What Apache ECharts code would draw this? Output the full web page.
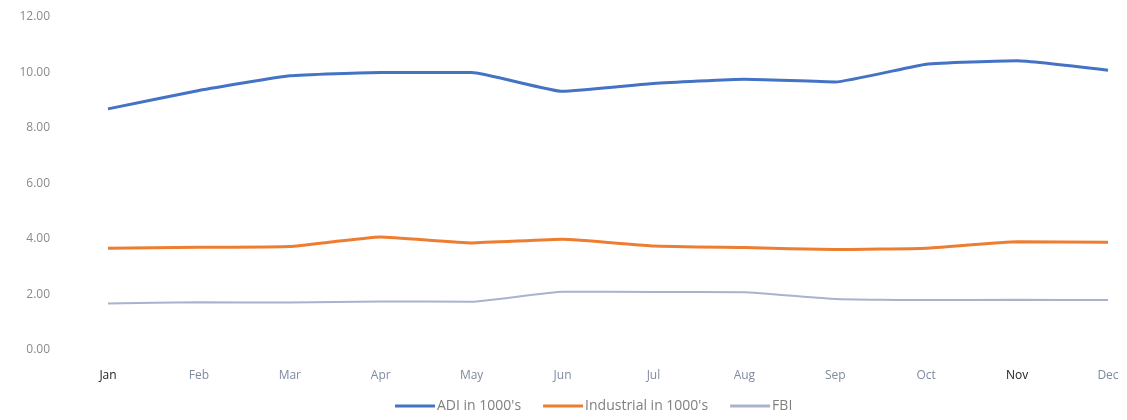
<!DOCTYPE html>
<html>
<head>
<meta charset="utf-8">
<style>
  html, body { margin: 0; padding: 0; background: #fff; }
  #chart { width: 1127px; height: 420px; }
</style>
<script src="https://cdn.jsdelivr.net/npm/echarts@6/dist/echarts.min.js"></script>
</head>
<body>
<div id="chart"></div>
<script>
// months on the x axis
var months = ["Jan", "Feb", "Mar", "Apr", "May", "Jun", "Jul", "Aug", "Sep", "Oct", "Nov", "Dec"];
// values
var adi = [8.69, 9.35, 9.88, 10.0, 10.0, 9.32, 9.6, 9.76, 9.66, 10.3, 10.42, 10.08];
var industrial = [3.67, 3.7, 3.73, 4.07, 3.86, 3.99, 3.75, 3.69, 3.62, 3.67, 3.9, 3.88];
var fbi = [1.68, 1.72, 1.71, 1.75, 1.74, 2.1, 2.09, 2.08, 1.84, 1.8, 1.81, 1.8];

var chart = echarts.init(document.getElementById("chart"));

function lineSeries(name, data, color, width) {
  return {
    name: name,
    type: "line",
    data: data,
    symbol: "none",
    smooth: 0.12,
    lineStyle: { color: color, width: width },
    itemStyle: { color: color }
  };
}

var option = {
  animation: false,
  textStyle: { fontFamily: "Open Sans" },
  grid: { left: 108, right: 19, top: 17, bottom: 70 },
  legend: {
    bottom: 2,
    left: 390,
    itemWidth: 40,
    itemHeight: 3,
    itemGap: 22,
    icon: "rect",
    textStyle: { color: "#7f7f7f", fontSize: 14, padding: [0, 0, 0, -3] },
    data: ["ADI in 1000's", "Industrial in 1000's", "FBI"]
  },
  xAxis: {
    type: "category",
    data: months,
    boundaryGap: false,
    axisLine: { show: false },
    axisTick: { show: false },
    axisLabel: {
      margin: 20,
      fontSize: 12,
      // Jan and Nov are printed darker in the scan
      color: function (value) {
        return value === "Jan" || value === "Nov" ? "#222" : "#7f8aa0";
      }
    }
  },
  yAxis: {
    type: "value",
    min: 0,
    max: 12,
    interval: 2,
    axisLine: { show: false },
    axisTick: { show: false },
    splitLine: { show: false },
    axisLabel: {
      margin: 58,
      fontSize: 12,
      color: "#8a8a8a",
      formatter: function (v) { return v.toFixed(2); }
    }
  },
  series: [
    lineSeries("ADI in 1000's", adi, "#4472C4", 3),
    lineSeries("Industrial in 1000's", industrial, "#ED7D31", 3),
    lineSeries("FBI", fbi, "#A9B3CE", 2)
  ]
};

chart.setOption(option);
</script>
</body>
</html>
